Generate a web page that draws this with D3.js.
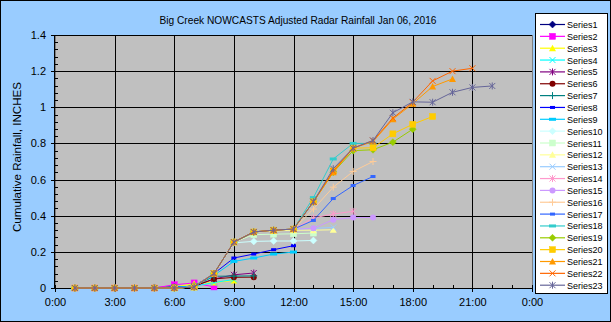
<!DOCTYPE html>
<html><head><meta charset="utf-8">
<script src="https://cdn.jsdelivr.net/npm/d3@7"></script>
<style>
html,body{margin:0;padding:0;background:#fff;}
svg{display:block;font-family:Arial,"Liberation Sans",sans-serif;}
</style></head>
<body>
<svg id="c" width="611" height="322"></svg>
<script>
const title = "Big Creek NOWCASTS Adjusted Radar Rainfall Jan 06, 2016";
const yTitle = "Cumulative Rainfall, INCHES";
const xTickHours = [0, 3, 6, 9, 12, 15, 18, 21, 24];
const xTickLabels = ["0:00", "3:00", "6:00", "9:00", "12:00", "15:00", "18:00", "21:00", "0:00"];
const yTicks = [0, 0.2, 0.4, 0.6, 0.8, 1, 1.2, 1.4];
const yTickLabels = ["0", "0.2", "0.4", "0.6", "0.8", "1", "1.2", "1.4"];
const seriesNames = d3.range(1, 24).map(i => "Series" + i);
const seriesColors = ["#000080","#FF00FF","#FFFF00","#00FFFF","#800080","#800000","#008080","#0000FF","#00CCFF","#CCFFFF","#CCFFCC","#FFFF99","#99CCFF","#FF99CC","#CC99FF","#FFCC99","#3366FF","#33CCCC","#99CC00","#FFCC00","#FF9900","#FF6600","#666699"];
const markerShapes = ["diamond","square","triangle","x","star","circle","plus","dash","longdash"];
// values at hours 1:00, 2:00, 3:00 ... (cumulative inches)
const s1  = [0, 0, 0, 0, 0.003, 0.005, 0.01];
const s2  = [0, 0, 0, 0, 0, 0.018, 0.028, 0.006];
const s3  = [0, 0, 0, 0, 0, 0.005, 0.024, 0.03, 0.042];
const s4  = [0, 0, 0, 0, 0, 0.005, 0.01, 0.03, 0.047];
const s5  = [0, 0, 0, 0, 0, 0.005, 0.01, 0.05, 0.073, 0.083];
const s6  = [0, 0, 0, 0, 0, 0.005, 0.01, 0.05, 0.059, 0.06];
const s7  = [0, 0, 0, 0, 0, 0.005, 0.01, 0.065, 0.066, 0.067];
const s8  = [0, 0, 0, 0, 0, 0.005, 0.01, 0.08, 0.166, 0.188, 0.212, 0.234];
const s9  = [0, 0, 0, 0, 0, 0.005, 0.01, 0.07, 0.147, 0.166, 0.188, 0.199];
const s10 = [0, 0, 0, 0, 0, 0, 0.005, 0.08, 0.25, 0.258, 0.26, 0.26, 0.263];
const s11 = [0, 0, 0, 0, 0, 0, 0.005, 0.08, 0.254, 0.295, 0.298, 0.3, 0.304];
const s12 = [0, 0, 0, 0, 0, 0, 0.005, 0.08, 0.254, 0.31, 0.315, 0.32, 0.32, 0.322];
const s13 = [0, 0, 0, 0, 0, 0, 0.005, 0.08, 0.254, 0.31, 0.32, 0.326, 0.33, 0.335];
const s14 = [0, 0, 0, 0, 0, 0, 0.005, 0.08, 0.254, 0.31, 0.32, 0.326, 0.387, 0.41, 0.424];
const s15 = [0, 0, 0, 0, 0, 0, 0.005, 0.08, 0.254, 0.31, 0.32, 0.326, 0.33, 0.378, 0.39, 0.39];
const s16 = [0, 0, 0, 0, 0, 0, 0.005, 0.08, 0.254, 0.31, 0.32, 0.326, 0.437, 0.558, 0.645, 0.7];
const s17 = [0, 0, 0, 0, 0, 0, 0.005, 0.08, 0.254, 0.31, 0.32, 0.326, 0.374, 0.495, 0.567, 0.617];
const s18 = [0, 0, 0, 0, 0, 0, 0.005, 0.08, 0.254, 0.31, 0.32, 0.326, 0.5, 0.714, 0.8, 0.8];
const s19 = [0, 0, 0, 0, 0, 0, 0.005, 0.08, 0.254, 0.31, 0.32, 0.326, 0.477, 0.64, 0.76, 0.765, 0.807, 0.879];
const s20 = [0, 0, 0, 0, 0, 0, 0.005, 0.08, 0.254, 0.31, 0.32, 0.326, 0.477, 0.648, 0.774, 0.776, 0.853, 0.906, 0.949];
const s21 = [0, 0, 0, 0, 0, 0, 0.005, 0.08, 0.254, 0.31, 0.32, 0.326, 0.477, 0.64, 0.774, 0.81, 0.934, 1.02, 1.115, 1.157];
const s22 = [0, 0, 0, 0, 0, 0, 0.005, 0.08, 0.254, 0.31, 0.32, 0.326, 0.477, 0.648, 0.774, 0.816, 0.94, 1.028, 1.146, 1.2, 1.216];
const s23 = [0, 0, 0, 0, 0, 0, 0.005, 0.08, 0.254, 0.31, 0.32, 0.326, 0.477, 0.66, 0.774, 0.816, 0.97, 1.03, 1.028, 1.083, 1.11, 1.118];
const seriesValues = [s1,s2,s3,s4,s5,s6,s7,s8,s9,s10,s11,s12,s13,s14,s15,s16,s17,s18,s19,s20,s21,s22,s23];

const svg = d3.select("#c");
const W = 611, H = 322;
const pl = 55, pr = 532, pt = 35, pb = 288;
svg.append("rect").attr("x",0.5).attr("y",0.5).attr("width",W-1).attr("height",H-1)
  .attr("fill","#99CCFF").attr("stroke","#000");

const x = d3.scaleLinear().domain([0,24]).range([pl,pr]);
const y = d3.scaleLinear().domain([0,1.4]).range([pb,pt]);

svg.append("rect").attr("x",pl).attr("y",pt).attr("width",pr-pl).attr("height",pb-pt)
  .attr("fill","#C0C0C0").attr("stroke","#808080").attr("shape-rendering","crispEdges");

const grid = svg.append("g").attr("shape-rendering","crispEdges");
yTicks.slice(1).forEach(v => grid.append("line").attr("x1",pl).attr("x2",pr)
  .attr("y1",Math.round(y(v))+0.5).attr("y2",Math.round(y(v))+0.5).attr("stroke","#000"));
xTickHours.slice(1,-1).forEach(h => grid.append("line").attr("y1",pt).attr("y2",pb)
  .attr("x1",Math.round(x(h))+0.5).attr("x2",Math.round(x(h))+0.5).attr("stroke","#000"));

// axes
const xAxis = d3.axisBottom(x).tickValues(xTickHours).tickSize(4).tickPadding(6)
  .tickFormat((d,i) => xTickLabels[i]);
const gx = svg.append("g").attr("transform",`translate(0,${pb})`).call(xAxis);
const yAxis = d3.axisLeft(y).tickValues(yTicks).tickSize(4).tickPadding(5)
  .tickFormat((d,i) => yTickLabels[i]);
const gy = svg.append("g").attr("transform",`translate(${pl},0)`).call(yAxis);
[gx,gy].forEach(g => {
  g.selectAll("path.domain").attr("stroke","#000");
  g.selectAll("line").attr("stroke","#000");
  g.selectAll("text").attr("font-size","11px").attr("fill","#000").attr("font-family","Arial, 'Liberation Sans', sans-serif");
  g.attr("shape-rendering","crispEdges");
});
gx.select("path.domain").attr("d",`M${pl},0.5H${pr}`);
gy.select("path.domain").attr("d",`M-0.5,${pt}V${pb}`);
gx.selectAll(".tick line").attr("y1",-3);
// minor ticks
const minor = svg.append("g").attr("shape-rendering","crispEdges");
d3.range(0,25).filter(h => h%3).forEach(h => minor.append("line")
  .attr("x1",Math.round(x(h))+0.5).attr("x2",Math.round(x(h))+0.5).attr("y1",pb-3).attr("y2",pb).attr("stroke","#000"));
d3.range(0,1.4001,0.04).forEach(v => minor.append("line")
  .attr("x1",pl).attr("x2",pl+3).attr("y1",Math.round(y(v))+0.5).attr("y2",Math.round(y(v))+0.5).attr("stroke","#000"));

// title
svg.append("text").attr("x",298).attr("y",24).attr("text-anchor","middle")
  .attr("font-size","11px").attr("textLength",277).attr("lengthAdjust","spacingAndGlyphs")
  .attr("fill","#000").text(title);
svg.append("text").attr("transform","translate(21,157) rotate(-90)").attr("text-anchor","middle")
  .attr("font-size","11px").attr("textLength",150).attr("lengthAdjust","spacingAndGlyphs")
  .attr("fill","#000").text(yTitle);

function marker(g, shape, cx, cy, color) {
  const s = 3;
  if (shape === "diamond") g.append("path").attr("d",`M${cx},${cy-3.5}L${cx+3.5},${cy}L${cx},${cy+3.5}L${cx-3.5},${cy}Z`).attr("fill",color).attr("stroke",color).attr("stroke-width",0.5);
  else if (shape === "square") g.append("rect").attr("x",cx-s).attr("y",cy-s).attr("width",2*s).attr("height",2*s).attr("fill",color).attr("stroke",color).attr("stroke-width",0.5);
  else if (shape === "triangle") g.append("path").attr("d",`M${cx},${cy-3.5}L${cx+3.5},${cy+3}L${cx-3.5},${cy+3}Z`).attr("fill",color);
  else if (shape === "x") g.append("path").attr("d",`M${cx-3},${cy-3}L${cx+3},${cy+3}M${cx-3},${cy+3}L${cx+3},${cy-3}`).attr("stroke",color).attr("stroke-width",1).attr("fill","none");
  else if (shape === "star") g.append("path").attr("d",`M${cx-3},${cy-3}L${cx+3},${cy+3}M${cx-3},${cy+3}L${cx+3},${cy-3}M${cx},${cy-3.5}L${cx},${cy+3.5}`).attr("stroke",color).attr("stroke-width",1).attr("fill","none");
  else if (shape === "circle") g.append("circle").attr("cx",cx).attr("cy",cy).attr("r",3).attr("fill",color);
  else if (shape === "plus") g.append("path").attr("d",`M${cx-3.5},${cy}L${cx+3.5},${cy}M${cx},${cy-3.5}L${cx},${cy+3.5}`).attr("stroke",color).attr("stroke-width",1).attr("fill","none");
  else if (shape === "dash") g.append("rect").attr("x",cx-2.5).attr("y",cy-1.5).attr("width",5).attr("height",3).attr("fill",color);
  else if (shape === "longdash") g.append("rect").attr("x",cx-3.5).attr("y",cy-1.5).attr("width",7).attr("height",3).attr("fill",color);
}

const line = d3.line().x((d,i) => x(i+1)).y(d => y(d));
const plot = svg.append("g");
seriesValues.forEach((vals, k) => {
  const g = plot.append("g");
  const c = seriesColors[k];
  g.append("path").attr("d",line(vals)).attr("fill","none").attr("stroke",c).attr("stroke-width",1);
  vals.forEach((v,i) => marker(g, markerShapes[k%9], x(i+1), y(v), c));
});

// legend
const lg = svg.append("g");
const lx = 535, ly = 13, lw = 72, lh = 280;
lg.append("rect").attr("x",lx+0.5).attr("y",ly+0.5).attr("width",lw).attr("height",lh)
  .attr("fill","#fff").attr("stroke","#000").attr("shape-rendering","crispEdges");
seriesNames.forEach((n,k) => {
  const yy = 24.5 + k*11.85;
  lg.append("line").attr("x1",540).attr("x2",565).attr("y1",yy).attr("y2",yy).attr("stroke",seriesColors[k]).attr("stroke-width",1.2);
  marker(lg, markerShapes[k%9], 552.5, yy, seriesColors[k]);
  lg.append("text").attr("x",567).attr("y",yy+3.5).attr("font-size","9px").attr("fill","#000").text(n);
});
</script>
</body></html>
